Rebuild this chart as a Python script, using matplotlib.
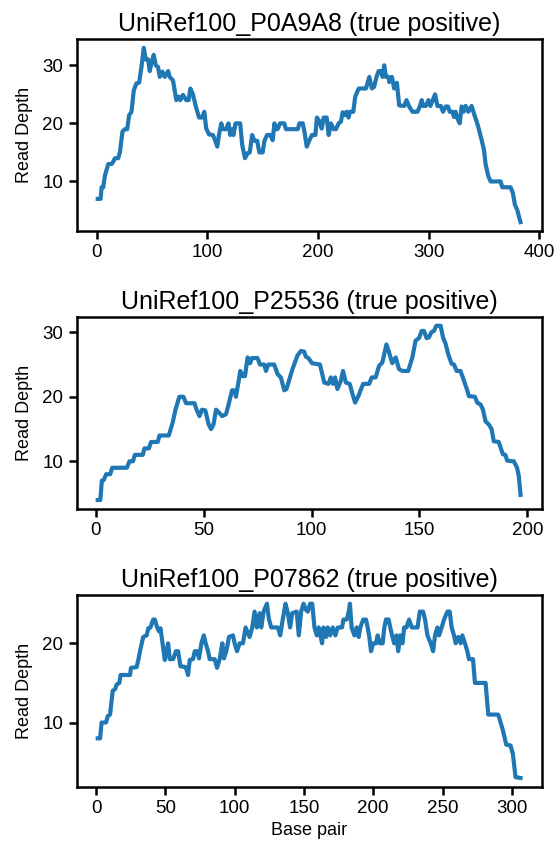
import numpy as np
import matplotlib
matplotlib.use("Agg")
import matplotlib.pyplot as plt

plt.rcParams['font.family'] = ['Liberation Sans', 'DejaVu Sans']

# read depth traces (base pair, depth)
titles = ["UniRef100_P0A9A8 (true positive)",
          "UniRef100_P25536 (true positive)",
          "UniRef100_P07862 (true positive)"]

bp1 = [1, 3.6, 4.5, 6, 7.5, 9, 10.5, 13.5, 15, 16.5, 19.5, 21, 23.4, 25.5, 27.6, 29.4,
       31.5, 33.6, 36, 38.4, 40.5, 42.6, 44.4, 46.5, 48, 49.8, 51.6, 53.4, 55.5, 57, 59.4,
       61.5, 64.6, 66, 69, 72, 74.1, 75.6, 78, 81, 83.1, 84.7, 87, 89.5, 92.5, 95.2, 97.3,
       99, 101.5, 105, 107, 109, 110.5, 112.6, 114, 117, 119.1, 120.7, 122.4, 123.6, 125.5,
       129.7, 131.5, 134, 136.5, 138.3, 140.5, 142.5, 145, 147, 150, 151.6, 154, 157, 159,
       160.6, 162, 163.5, 165.6, 169.5, 171, 174, 181.7, 183.2, 186.2, 187.7, 189.8, 192.2,
       194.6, 197.6, 199, 201.2, 203.3, 205.1, 207.8, 209.6, 211.7, 214.1, 216.2, 218.6,
       220.7, 222.2, 224.6, 225.8, 227.6, 228.8, 231.8, 233.6, 236.7, 243.3, 246.3, 248.6,
       250.7, 252.8, 254.7, 256.8, 258.3, 259.8, 261.3, 263.7, 264.3, 266.7, 268.8, 271.2,
       273.3, 277.8, 279.9, 282.3, 285.3, 289.8, 291.9, 293.7, 294.9, 297.3, 299.7, 301.5,
       303.6, 305.7, 307.8, 310.8, 312.9, 315.3, 317.4, 318.9, 321.3, 322.8, 324.3, 325.8,
       328, 329.7, 331.5, 333.3, 335.7, 338.7, 340.8, 343.8, 345.4, 347.8, 349.9, 351.4,
       353.8, 355.9, 364.9, 366.4, 373.9, 376, 377.8, 379.9, 381.4, 382.9]
depth1 = [7, 7, 9, 9, 11, 12, 13, 13, 13.4, 14, 14, 15, 18.6, 19, 19, 21.4,
          22, 25.7, 26.9, 27, 29.7, 33, 31, 31, 29, 30.6, 31.8, 30, 29.7, 28, 28.9,
          28, 29, 28, 27.4, 24, 24.6, 24, 24.9, 24, 24, 26, 25, 23, 21, 21, 22,
          19.1, 18.1, 18, 17.1, 16, 18, 20, 19, 19, 20, 18, 19, 18, 20,
          20, 16.3, 14, 14.9, 15, 18, 17, 17, 15, 15, 17, 18, 18, 17.1,
          20, 19, 19, 20, 20, 19, 19, 19, 20, 20, 18.6, 16, 17.1,
          18, 18, 21, 20.4, 19.1, 21, 21, 18, 20, 19, 19, 20,
          20.3, 21.9, 21.4, 22, 21, 22, 22, 24.6, 26, 26, 28, 26,
          26.3, 28, 29, 29, 28, 30, 28, 28, 27.1, 28, 26, 27,
          23.1, 23, 24, 22.9, 22, 22, 22.9, 24, 23, 23, 24, 23,
          24, 25, 23, 23, 22, 22.9, 22.9, 22, 22, 21.1, 22, 20.9,
          20, 22.9, 22, 23, 22, 23, 21.7, 20, 18.9, 17.1, 15.4, 12.9,
          10.9, 10, 10, 9, 9, 8, 6, 5.1, 4, 3]

bp2 = [1, 2.2, 2.9, 3.8, 4.9, 6.8, 7.7, 14.5, 15.7, 17.3, 18.2, 21.9, 22.6, 24.7, 25.7,
       28.8, 29.6, 33.9, 35.7, 37, 38.8, 40.7, 41.9, 45.8, 46.8, 48.1, 49.3, 50.8, 52.4,
       53.5, 54.6, 55.8, 57.3, 58.6, 60.4, 61.6, 63.2, 64.3, 65, 66.3, 67, 68.1, 69.2,
       70.4, 71.6, 72.4, 75, 76.1, 78.1, 78.9, 80, 82.7, 84.3, 85.8, 87.4, 88.4, 91.2,
       93.5, 95.1, 96.6, 97.4, 98.6, 100.2, 103.9, 105.9, 107.9, 108.9, 110, 110.9, 112,
       113.6, 114.6, 115.9, 117.7, 119, 120.2, 121.7, 123.9, 126.7, 127.9, 129.7, 131.3,
       132.8, 134.7, 135.9, 137.4, 139, 140.5, 142.1, 144.8, 146.7, 148.2, 149.8, 151,
       152.1, 153.3, 154.4, 155.5, 156.7, 157.8, 159.8, 160.9, 162.1, 163.3, 164.9, 166,
       167.2, 169, 170.6, 172.1, 172.9, 175.7, 176.7, 178.3, 179.4, 180.6, 182.1, 183.4,
       184.4, 186.7, 188.6, 189.8, 190.6, 193.7, 195.2, 196, 196.8]
depth2 = [4, 4, 7, 7.1, 8, 8, 9, 9, 10, 10, 11, 11, 12, 12, 13,
          13, 14, 14, 16, 18, 20, 20, 19, 19, 18, 17, 18, 17.9, 15.7,
          15, 15.7, 18, 17.5, 17, 17.3, 18.8, 21, 21, 20, 22.5, 24, 23.2, 23.2,
          26.1, 25.2, 26, 26, 25, 25, 24, 25, 25, 23.5, 23, 21, 21.2, 24.3,
          26.4, 27.1, 27, 26.2, 26, 25.2, 25, 22.2, 22, 23, 22, 23, 21.2,
          22.5, 24, 22.2, 22, 20.4, 19.1, 20.1, 22, 22, 23, 23, 24.8,
          25.3, 28.1, 26.9, 25.2, 26.1, 24.3, 24, 24, 26.1, 28.7, 29.1, 30.2,
          30.2, 29.1, 29.2, 30, 30.2, 31, 31, 29.2, 28.2, 26.6, 25.1, 25,
          24, 24, 22.5, 21, 20.1, 20, 19.1, 18.8, 18, 16.2, 15.7, 15,
          13.1, 13, 11.1, 11, 10.1, 10, 9, 7.7, 4.8]

bp3 = [1.2, 2.9, 4, 7.2, 8.4, 10.1, 12, 13.7, 14.9, 16.8, 17.7, 24.5, 25.2, 29.3, 30.5,
       31.7, 34, 36.5, 37.7, 39.3, 41.2, 42.4, 44.1, 45.5, 46.5, 48, 49.6, 50.8, 52, 53.2,
       55.6, 57.6, 59.2, 60.9, 64.7, 66.4, 67.6, 70, 71.2, 72.9, 74.3, 76, 77.7, 79.1,
       80.8, 82, 85.6, 87.3, 89.2, 91.1, 92.3, 94, 95.9, 98.8, 100, 101.7, 103.6, 106,
       107.9, 110.8, 112.7, 114.4, 116, 118, 119.2, 120.9, 123.3, 124.7, 126.4, 131.2,
       132.9, 134.8, 136.7, 138.4, 140, 141.5, 144.8, 146.3, 148, 149.7, 151.6, 152.8,
       154.5, 156, 157.6, 159.3, 160.7, 163.1, 164.1, 166, 167.2, 168.9, 170.8, 172.7,
       174.4, 177.5, 178.5, 180.9, 182.3, 183.2, 184.4, 186.4, 188, 189.5, 190.7, 192.8,
       194.8, 196, 197.2, 198.4, 200, 202, 203.2, 204.8, 206.8, 208, 209.2, 211.1, 212.3,
       213.9, 215.1, 216.8, 218, 219.5, 221.1, 222.3, 224, 225.9, 227.8, 232, 233.6, 236,
       237.4, 239.1, 241.5, 243.2, 244.6, 246.3, 247.5, 249.4, 251.1, 253.5, 255.2, 256.6,
       258.3, 259.5, 261.4, 263.1, 264.3, 266.2, 267.9, 269.1, 272, 273.4, 281.1, 283,
       290.2, 291.9, 293.6, 296, 299.1, 300.8, 302.7, 306.3]
depth3 = [8, 8, 10, 10, 10.8, 11, 14, 14.2, 14.8, 15, 16, 16, 16.9, 17, 17.9,
          19, 20.8, 21, 21.9, 22, 23, 23, 22, 21.5, 21.9, 20, 17.9, 19, 20, 18,
          18, 19, 19, 17.1, 17, 16, 17.9, 18, 19, 19, 18.1, 20, 21, 20,
          19, 18, 18, 16.9, 18, 20, 18.1, 19, 20.8, 21, 20, 19, 20, 20,
          22, 20.8, 22, 24, 22, 23.8, 22, 24, 25, 23.1, 22, 22,
          21, 23.1, 25, 23.8, 22, 23.8, 24, 21, 24, 25, 24.2, 24,
          25, 25, 22, 21, 22, 20, 22, 20.8, 22, 21, 22, 21,
          22, 22, 23, 23, 24, 25, 22, 21, 22, 20.8, 22, 23,
          23, 22, 20.8, 19, 20, 20, 21, 20, 20, 22, 23, 23, 22,
          20.8, 20, 21, 19, 21, 20, 22, 22, 23, 22, 22, 24, 24,
          23, 21, 20, 19, 21, 22, 21, 22, 23, 24, 24, 22,
          21, 20, 20.8, 20, 21, 20, 19, 18, 18, 15, 15, 11,
          11, 10, 9, 7.2, 7.1, 6, 3.1, 3]

xs = [bp1, bp2, bp3]
ys = [depth1, depth2, depth3]
xticks = [[0, 100, 200, 300, 400], [0, 50, 100, 150, 200], [0, 50, 100, 150, 200, 250, 300]]

fig, axes = plt.subplots(3, 1, figsize=(5.59, 8.51), dpi=100)
fig.subplots_adjust(left=0.137, right=0.969, top=0.954, bottom=0.0756, hspace=0.45)

for ax, x, y, t, xt in zip(axes, xs, ys, titles, xticks):
    ax.plot(x, y, color='#1f77b4', lw=3.0)
    ax.set_title(t, fontsize=18, pad=6)
    ax.set_ylabel('Read Depth', fontsize=13, labelpad=7)
    xl, yl = ax.get_xlim(), ax.get_ylim()
    ax.set_yticks([10, 20, 30])
    ax.set_xticks(xt)
    ax.set_xlim(xl)
    ax.set_ylim(yl)
    ax.tick_params(labelsize=13.5, length=5.5, width=1.8, pad=4)
    for s in ax.spines.values():
        s.set_linewidth(1.8)

axes[2].set_xlabel('Base pair', fontsize=13)

fig.savefig('out.png', dpi=100)
